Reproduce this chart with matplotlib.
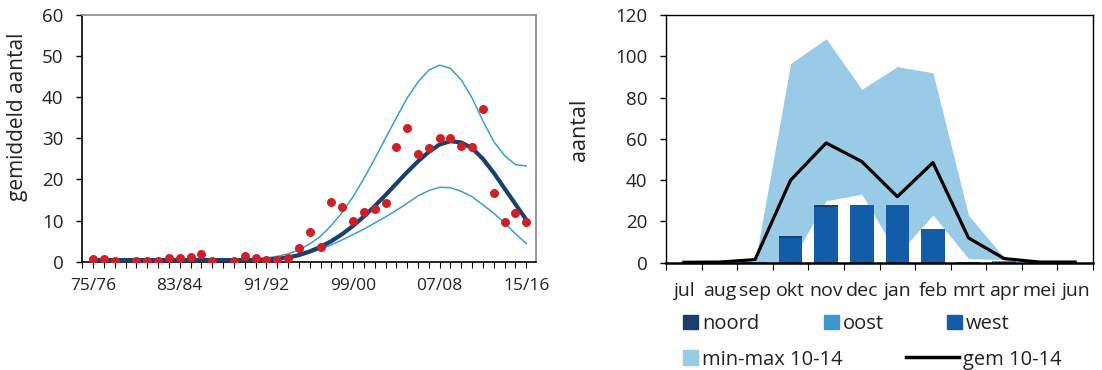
import matplotlib
matplotlib.use("Agg")
import matplotlib.pyplot as plt
from matplotlib.lines import Line2D
from matplotlib.patches import Patch
import numpy as np

plt.rcParams['font.family'] = ['Open Sans', 'DejaVu Sans']

# --- linker grafiek: seizoenen 75/76 .. 15/16
seasons = ["%02d/%02d" % ((75 + i) % 100, (76 + i) % 100) for i in range(41)]
season_ticks = [0, 8, 16, 24, 32, 40]

dots = [0.6, 0.6, 0.2, np.nan, 0.2, 0.2, 0.2, 1.0, 1.0, 1.2,
        1.8, 0.2, np.nan, 0.2, 1.3, 0.8, 0.4, 0.5, 0.9, 3.4,
        7.3, 3.5, 14.5, 13.3, 10.0, 12.2, 12.9, 14.2, 28.0, 32.4,
        26.1, 27.6, 30.1, 30.2, 28.2, 27.8, 37.2, 16.6, 9.7, 11.8, 9.6]

trend = [0.4, 0.4, 0.4, 0.4, 0.4, 0.4, 0.4, 0.4, 0.4, 0.4,
         0.4, 0.4, 0.4, 0.4, 0.4, 0.4, 0.5, 0.7, 1.0, 1.6,
         2.5, 3.6, 5.0, 6.7, 8.7, 11.0, 13.5, 16.2, 19.0, 21.8,
         24.4, 26.7, 28.5, 29.3, 29.0, 27.6, 25.0, 21.6, 17.8, 14.0, 10.2]

upper = [0.5, 0.5, 0.5, 0.5, 0.5, 0.5, 0.5, 0.5, 0.5, 0.5,
         0.5, 0.5, 0.5, 0.5, 0.6, 0.7, 0.9, 1.3, 1.9, 2.9,
         4.3, 6.2, 8.8, 12.0, 15.8, 20.2, 25.0, 30.0, 35.0, 39.8,
         43.7, 46.6, 47.8, 47.0, 44.2, 39.8, 34.2, 29.2, 25.8, 23.6, 23.3]

lower = [0.3, 0.3, 0.3, 0.3, 0.3, 0.3, 0.3, 0.3, 0.3, 0.3,
         0.3, 0.3, 0.3, 0.3, 0.3, 0.4, 0.5, 0.6, 0.9, 1.4,
         2.1, 3.0, 4.1, 5.3, 6.6, 7.9, 9.4, 10.9, 12.5, 14.2,
         16.0, 17.3, 18.1, 18.0, 17.1, 15.8, 13.8, 11.8, 9.4, 6.8, 4.4]

# --- rechter grafiek: maanden
months = ["jul", "aug", "sep", "okt", "nov", "dec", "jan", "feb", "mrt", "apr", "mei", "jun"]
noord = [0, 0, 0, 0.8, 0.8, 0, 0, 0, 0, 0, 0, 0]
oost = [0, 0, 0, 0, 0, 0, 0, 0, 0, 0.3, 0, 0]
west = [0, 0, 0.3, 12.1, 27.1, 28.0, 28.0, 16.2, 0.2, 0.5, 0, 0]
band_min = [0, 0, 0, 0, 30.0, 33.2, 4.0, 23.1, 2.0, 1.5, 0, 0]
band_max = [0, 0, 0, 96.5, 108.5, 84.0, 95.0, 92.0, 23.0, 2.5, 0, 0]
gem = [0.2, 0.3, 1.5, 40.0, 58.0, 49.0, 32.0, 48.5, 12.0, 2.0, 0.3, 0.3]

c_dark = '#1b3f6e'
c_thin = '#3d9fcc'
c_red = '#cf2027'
c_noord = '#1a3f6b'
c_oost = '#3f95d0'
c_west = '#135ca8'
c_band = '#99cbe6'
txt = '#222222'

fig = plt.figure(figsize=(11.02, 3.70), dpi=100)

# ---------- links
ax1 = fig.add_axes([0.0747, 0.2927, 0.4117, 0.6668])
x = np.arange(len(seasons))
ax1.plot(x, upper, color=c_thin, lw=1.1, zorder=2)
ax1.plot(x, lower, color=c_thin, lw=1.1, zorder=2)
ax1.plot(x, trend, color=c_dark, lw=3.0, zorder=3)
ax1.scatter(x, dots, s=42, color=c_red, zorder=4, linewidths=0)
ax1.set_xlim(-1, 40.9)
ax1.set_ylim(0, 60)
ax1.set_yticks(range(0, 61, 10))
ax1.set_xticks(season_ticks)
ax1.set_xticklabels([seasons[i] for i in season_ticks])
ax1.set_xticks(np.arange(-1, 41), minor=True)
ax1.tick_params(axis='y', length=4.5, width=1, colors='black', labelcolor=txt, labelsize=13.5, pad=9)
ax1.tick_params(axis='x', which='both', length=4, width=0.8, labelcolor=txt, labelsize=12.5, pad=8)
ax1.set_ylabel("gemiddeld aantal", fontsize=15, color=txt)
ax1.yaxis.set_label_coords(-0.12, 0.587)
for s in ['top', 'right']:
    ax1.spines[s].set_color('#8a8a8a')
    ax1.spines[s].set_linewidth(1.2)
for s in ['left', 'bottom']:
    ax1.spines[s].set_color('black')
    ax1.spines[s].set_linewidth(1.2)

# ---------- rechts
ax2 = fig.add_axes([0.6044, 0.29, 0.3875, 0.6695])
m = np.arange(len(months))
ax2.fill_between(m, band_min, band_max, color=c_band, lw=0, zorder=1)
ax2.bar(m, west, width=0.66, color=c_west, zorder=2)
ax2.bar(m, oost, width=0.66, bottom=west, color=c_oost, zorder=2)
ax2.bar(m, noord, width=0.66, bottom=np.array(west) + np.array(oost), color=c_noord, zorder=2)
ax2.plot(m, gem, color='black', lw=2.3, zorder=3)
ax2.set_xlim(-0.5, 11.5)
ax2.set_ylim(0, 120)
ax2.set_yticks(range(0, 121, 20))
ax2.set_xticks(m)
ax2.set_xticklabels(months)
ax2.set_xticks(np.arange(-0.5, 12, 1), minor=True)
ax2.tick_params(axis='x', which='major', length=0, labelcolor=txt, labelsize=14, pad=14)
ax2.tick_params(axis='x', which='minor', length=5, width=0.8)
ax2.tick_params(axis='y', length=4.5, width=1, labelcolor=txt, labelsize=13.5, pad=9)
ax2.set_ylabel("aantal", fontsize=15.5, color=txt)
ax2.yaxis.set_label_coords(-0.178, 0.536)
for s in ['top', 'right', 'left']:
    ax2.spines[s].set_linewidth(1.0)
ax2.spines['bottom'].set_linewidth(1.8)

# ---------- legenda (elk item apart geplaatst)
entries = [
    (Patch(color=c_noord, label='noord'), 0.6198, 0.124, 0.75),
    (Patch(color=c_oost, label='oost'), 0.7477, 0.124, 0.75),
    (Patch(color=c_west, label='west'), 0.8593, 0.124, 0.75),
    (Patch(color=c_band, label='min-max 10-14'), 0.6198, 0.028, 0.75),
    (Line2D([0], [0], color='black', lw=2.5, label='gem 10-14'), 0.8217, 0.028, 2.66),
]
for h, lx, ly, hl in entries:
    fig.legend(handles=[h], loc='center left', bbox_to_anchor=(lx, ly),
               frameon=False, fontsize=14.5, handlelength=hl, handleheight=0.75,
               handletextpad=0.2, borderpad=0, borderaxespad=0, labelcolor=txt)

fig.savefig("out.png", dpi=100)
